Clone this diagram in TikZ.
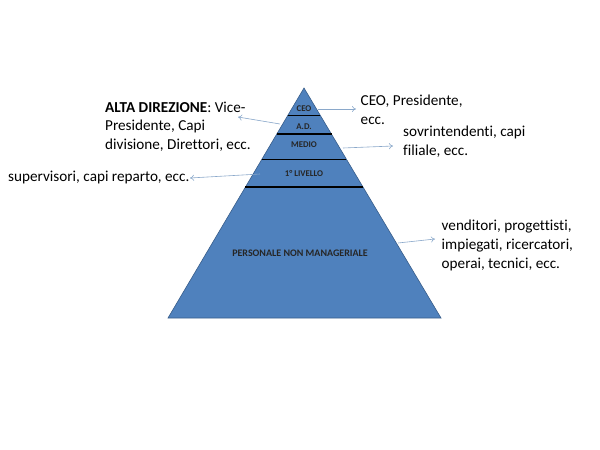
\documentclass[tikz,border=0pt]{standalone}
\usepackage{fontspec}
\setmainfont{Carlito}[Ligatures=NoCommon]
\usetikzlibrary{calc,arrows.meta}

\definecolor{pyrblue}{HTML}{4F81BD}
\definecolor{pyrline}{HTML}{385D8A}
\definecolor{arrowblue}{HTML}{8AA8CA}

\begin{document}
\begin{tikzpicture}[x=1pt, y=-1pt,
                   level/.style      = {font          = \bfseries\fontsize{8.8}{10}\selectfont,
                                        text          = black!85,
                                        inner sep     = 0pt},
                   note/.style       = {font          = \fontsize{15.2}{18.6}\selectfont,
                                        align         = left,
                                        inner sep     = 0pt,
                                        anchor        = base west},
                   blue arrow/.style = {-{To[length=4pt,width=6pt]},
                                        line width    = 0.6pt,
                                        arrowblue}]

\useasboundingbox (0,0) rectangle (600,450);

% the pyramid
\coordinate (top)   at (304,88);
\coordinate (left)  at (168,318);
\coordinate (right) at (441,318);
\draw[fill=pyrblue, draw=pyrline, line width=0.6pt] (top) -- (left) -- (right) -- cycle;

% the level lines
\foreach \t/\n in {0.1204/1, 0.2013/2, 0.3100/3, 0.4304/4}
  { \draw[line width=1.6pt, black] ($(top)!\t!(left)$) coordinate (l\n)
                                -- ($(top)!\t!(right)$) coordinate (r\n); }

% the level labels
\node[level] (ceo)   at (304,108.3) {CEO};
\node[level] (ad)    at (304,126.7) {A.D.};
\node[level] (medio) at (304,145)   {MEDIO};
\node[level] (primo) at (304,173.3) {1° LIVELLO};
\node[level, font=\bfseries\fontsize{10}{12}\selectfont]
             (pers)  at (300,253)   {PERSONALE NON MANAGERIALE};

% the notes (placed at the baseline of their last line)
\node[note] (ceotxt)   at (360.5,124.5) {CEO, Presidente,\\ecc.};
\node[note] (adtxt)    at (105,149.5)   {\textbf{ALTA DIREZIONE}: Vice-\\Presidente, Capi\\divisione, Direttori, ecc.};
\node[note] (mediotxt) at (403,155)     {sovrintendenti, capi\\filiale, ecc.};
\node[note] (primotxt) at (8,181)       {supervisori, capi reparto, ecc.};
\node[note] (perstxt)  at (441.5,268)   {venditori, progettisti,\\impiegati, ricercatori,\\operai, tecnici, ecc.};

% the arrows
\coordinate (ceofrom)   at (318,109);
\coordinate (adfrom)    at (280,124);
\coordinate (mediofrom) at (343,148);
\coordinate (primofrom) at (260,174);
\coordinate (persfrom)  at (398,243);
\draw[blue arrow] (ceofrom)   -- (356,109) coordinate (ceoto);
\draw[blue arrow] (adfrom)    -- (238,117) coordinate (adto);
\draw[blue arrow] (mediofrom) -- (393,146) coordinate (medioto);
\draw[blue arrow] (primofrom) -- (190,178) coordinate (primoto);
\draw[blue arrow] (persfrom)  -- (435,239) coordinate (persto);
\end{tikzpicture}
\end{document}
